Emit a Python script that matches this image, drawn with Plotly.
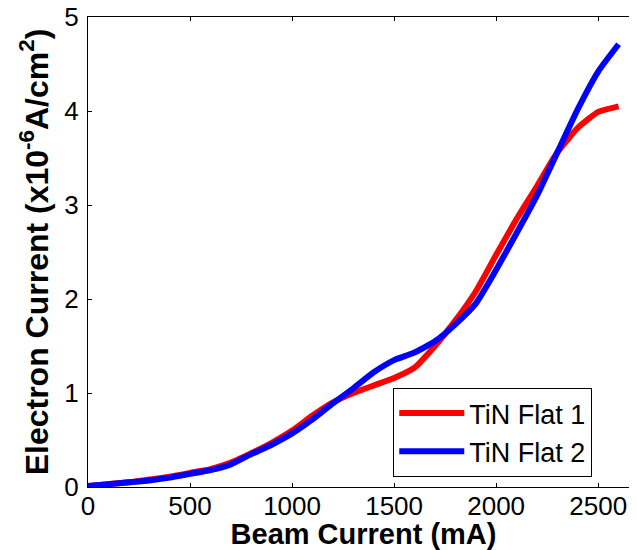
import plotly.graph_objects as go

# beam current (mA) and electron current (x1e-6 A/cm^2)
beam_ma = [0, 100, 200, 300, 400, 500, 600, 700, 800, 900, 1000, 1100, 1200, 1300,
           1400, 1500, 1600, 1700, 1800, 1900, 2000, 2100, 2200, 2300, 2400, 2500, 2600]
tin_flat_1 = [0.01, 0.03, 0.05, 0.08, 0.11, 0.15, 0.19, 0.26, 0.36, 0.47, 0.60, 0.76, 0.90, 1.00,
              1.08, 1.16, 1.27, 1.50, 1.77, 2.08, 2.47, 2.85, 3.20, 3.56, 3.82, 3.99, 4.05]
tin_flat_2 = [0.01, 0.03, 0.05, 0.07, 0.10, 0.14, 0.18, 0.24, 0.35, 0.45, 0.57, 0.72, 0.89, 1.05,
              1.22, 1.35, 1.43, 1.55, 1.73, 1.95, 2.31, 2.70, 3.10, 3.56, 4.02, 4.42, 4.71]

x_ticks = [0, 500, 1000, 1500, 2000, 2500]
y_ticks = [0, 1, 2, 3, 4, 5]

FONT = "Liberation Sans, Arial, sans-serif"

fig = go.Figure()
fig.add_trace(go.Scatter(x=beam_ma, y=tin_flat_1, mode="lines", name="TiN Flat 1",
                         line=dict(color="#ff0000", width=6, shape="spline", smoothing=0.5)))
fig.add_trace(go.Scatter(x=beam_ma, y=tin_flat_2, mode="lines", name="TiN Flat 2",
                         line=dict(color="#0000ff", width=6, shape="spline", smoothing=0.5)))

# page body has an 8px default margin; the right frame edge runs just past the window
fig.update_layout(
    width=631, height=542,
    margin=dict(l=80, r=0, t=9, b=63),
    paper_bgcolor="white", plot_bgcolor="white",
    font=dict(family=FONT, size=26, color="black"),
    showlegend=True,
    legend=dict(x=0.554, y=0.0213, xanchor="left", yanchor="bottom",
                bgcolor="white", bordercolor="black", borderwidth=1,
                font=dict(size=27), itemwidth=65, tracegroupgap=0),
    xaxis=dict(range=[0, 2700], tickvals=x_ticks, ticks="inside", ticklen=4,
               tickcolor="black", showline=True, linecolor="black", linewidth=1,
               mirror="ticks", showgrid=False, zeroline=False, automargin=False,
               ticklabelstandoff=-4,
               title=dict(text="Beam Current (mA)", standoff=0,
                          font=dict(size=29, weight="bold"))),
    yaxis=dict(range=[0, 5], tickvals=y_ticks, ticks="inside", ticklen=4,
               tickcolor="black", showline=True, linecolor="black", linewidth=1,
               mirror=False, showgrid=False, zeroline=False, ticklabelstandoff=3,
               automargin=False, ticklabeloverflow="allow",
               title=dict(text="Electron Current (x10<sup>-6</sup>A/cm<sup>2</sup>)",
                          standoff=6, font=dict(size=32, weight="bold"))),
    # right-hand tick marks only
    yaxis2=dict(range=[0, 5], tickvals=y_ticks, ticks="inside", ticklen=4,
                tickcolor="black", showline=False, showgrid=False, zeroline=False,
                showticklabels=False, overlaying="y", side="right", anchor="x"),
)

fig.write_html("out.html")
